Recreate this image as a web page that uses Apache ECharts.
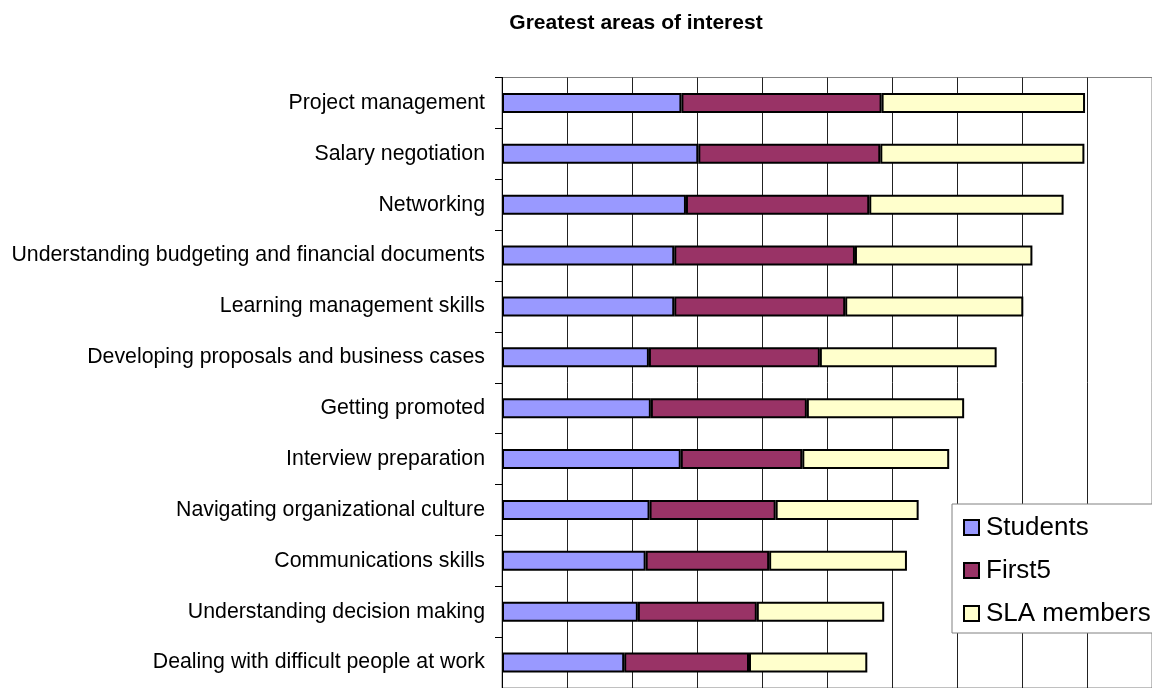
<!DOCTYPE html>
<html>
<head>
<meta charset="utf-8">
<script src="https://cdn.jsdelivr.net/npm/echarts@6/dist/echarts.min.js"></script>
<style>
html,body{margin:0;padding:0;background:#fff;}
#chart{width:1152px;height:688px;}
</style>
</head>
<body>
<div id="chart"></div>
<script>
const categories = [
  "Project management",
  "Salary negotiation",
  "Networking",
  "Understanding budgeting and financial documents",
  "Learning management skills",
  "Developing proposals and business cases",
  "Getting promoted",
  "Interview preparation",
  "Navigating organizational culture",
  "Communications skills",
  "Understanding decision making",
  "Dealing with difficult people at work"
];
const students   = [27.6, 30.2, 28.3, 26.5, 26.5, 22.6, 22.9, 27.5, 22.7, 22.1, 20.9, 18.8];
const first5     = [30.8, 28.0, 28.2, 27.8, 26.3, 26.3, 24.0, 18.7, 19.4, 19.0, 18.3, 19.2];
const slaMembers = [31.3, 31.4, 29.9, 27.3, 27.4, 27.2, 24.2, 22.6, 22.0, 21.2, 19.6, 18.2];
const seriesNames = ["Students", "First5", "SLA members"];
const seriesColors = ["#9999FF", "#993366", "#FFFFCC"];

const chart = echarts.init(document.getElementById('chart'), null, {renderer: 'canvas'});
const dataSets = [students, first5, slaMembers];

const option = {
  animation: false,
  backgroundColor: '#ffffff',
  title: {
    text: 'Greatest areas of interest',
    left: 631,
    top: 8,
    textAlign: 'center',
    textStyle: {fontFamily: 'Liberation Sans, Arial, sans-serif', fontSize: 21, fontWeight: 'bold', color: '#000'}
  },
  legend: {
    orient: 'vertical',
    left: 952,
    top: 504,
    padding: [10, 40, 6, 11],
    itemGap: 16,
    itemWidth: 15,
    itemHeight: 15,
    icon: 'rect',
    backgroundColor: '#fff',
    borderColor: '#808080',
    borderWidth: 1,
    data: seriesNames,
    textStyle: {fontFamily: 'Liberation Sans, Arial, sans-serif', fontSize: 26, color: '#000', lineHeight: 27, padding: [0,0,0,2]}
  },
  grid: {
    left: 502,
    top: 77.5,
    width: 652,
    height: 612,
    show: true,
    borderColor: '#808080',
    borderWidth: 1,
    backgroundColor: 'transparent'
  },
  xAxis: {
    type: 'value',
    min: 0,
    max: 100,
    interval: 10,
    axisLine: {show: false},
    axisTick: {show: false},
    axisLabel: {show: false},
    splitLine: {show: true, lineStyle: {color: '#222', width: 1}}
  },
  yAxis: {
    type: 'category',
    inverse: true,
    data: categories,
    axisLine: {show: true, lineStyle: {color: '#000', width: 1}},
    axisTick: {show: true, length: 7, lineStyle: {color: '#000', width: 1}},
    axisLabel: {margin: 17, fontFamily: 'Liberation Sans, Arial, sans-serif', fontSize: 21.3, color: '#000'}
  },
  series: seriesNames.map((name, i) => ({
    name: name,
    type: 'bar',
    stack: 'total',
    barWidth: 20,
    data: dataSets[i],
    itemStyle: {color: seriesColors[i], borderColor: '#000', borderWidth: 2},
    emphasis: {disabled: true}
  }))
};
chart.setOption(option);
</script>
</body>
</html>
